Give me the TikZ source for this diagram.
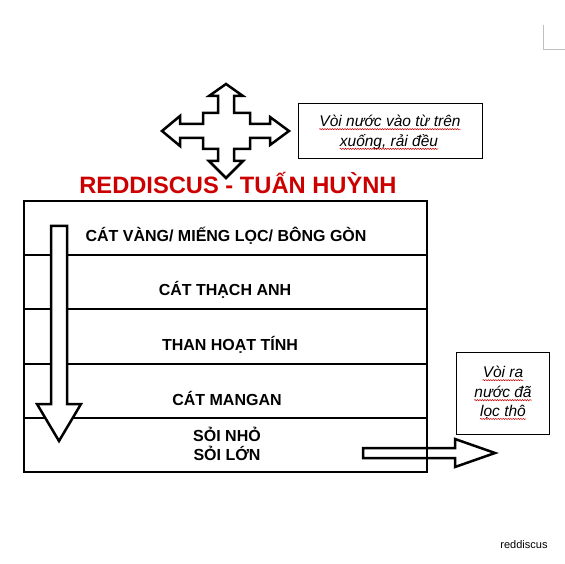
\documentclass[tikz,border=0pt]{standalone}
\usepackage{fontspec}
\setmainfont{Liberation Sans}
\usetikzlibrary{positioning,calc,decorations.pathmorphing}

\begin{document}
\begin{tikzpicture}[x=1pt,y=-1pt,
  box/.style={draw,line width=2pt},
  layertext/.style={inner sep=0pt,font=\fontsize{16}{19}\selectfont\bfseries,align=center},
  notebox/.style={draw,line width=1pt,minimum width=#1,inner sep=0pt},
  note/.style={inner sep=0pt,font=\fontsize{15.5}{19}\selectfont\itshape},
  blockarrow/.style={draw,line width=2.5pt,line join=miter},
  wavy/.style={red!80!black,line width=0.5pt,decorate,
    decoration={snake,amplitude=0.6pt,segment length=2.5pt}}]
  \useasboundingbox[fill=white] (0,0) rectangle (565,564);

  % page corner
  \draw[black!25,line width=0.8pt] (543,25) -- (543,49) -- (565,49);

  % title
  \node[inner sep=0pt,text=red!80!black,font=\fontsize{23.7}{27}\selectfont\bfseries]
    (title) at (238,183) {REDDISCUS - TUẤN HUỲNH};

  % four-way arrow
  \draw[blockarrow,fill=white]
    (226,84) -- (243,96) -- (234,96) -- (234,113) -- (250,113) -- (250,124)
    -- (270,124) -- (270,117) -- (289,131) -- (270,145) -- (270,138) -- (250,138)
    -- (250,149) -- (234,149) -- (234,161) -- (243,161) -- (226,178) -- (209,161)
    -- (218,161) -- (218,149) -- (203,149) -- (203,138) -- (180,138) -- (180,146)
    -- (162,131) -- (180,116) -- (180,124) -- (203,124) -- (203,113) -- (218,113)
    -- (218,96) -- (209,96) -- cycle;

  % top note
  \node[notebox=184,minimum height=55] (innote) at (390,131.5) {};
  \node[note] (in1) at (390,121) {Vòi nước vào từ trên};
  \node[note] (in2) at (389,142) {xuống, rải đều};

  % filter column
  \draw[box] (24,201) rectangle (427,472);
  \foreach \y in {255,309,364,418}
    \draw[box] (24,\y) -- (427,\y);

  \node[layertext] (l1) at (226,236) {CÁT VÀNG/ MIẾNG LỌC/ BÔNG GÒN};
  \node[layertext] (l2) at (225,290) {CÁT THẠCH ANH};
  \node[layertext] (l3) at (230,345) {THAN HOẠT TÍNH};
  \node[layertext] (l4) at (227,398) {CÁT MANGAN};
  \node[layertext] (l5) at (227,444) {SỎI NHỎ\\SỎI LỚN};

  % flow down
  \draw[blockarrow,fill=white] (51,226) -- (67,226) -- (67,404) -- (81,404)
    -- (59,441) -- (37,404) -- (51,404) -- cycle;

  % outlet
  \node[notebox=93,minimum height=82] (outnote) at (503,393) {};
  \node[note] (out1) at (503,372) {Vòi ra};
  \node[note] (out2) at (503,392) {nước đã};
  \node[note] (out3) at (503,412) {lọc thô};
  \draw[blockarrow] (363,448) -- (455,448) -- (455,439) -- (495,453)
    -- (455,467) -- (455,458) -- (363,458) -- cycle;

  % spell-check marks
  \foreach \n in {in1,in2,out1,out2,out3}
    \draw[wavy] ([yshift=-2.5pt]\n.base west) -- ([yshift=-2.5pt]\n.base east);

  \node[inner sep=0pt,font=\fontsize{11}{13}\selectfont] (sign) at (524,545) {reddiscus};
\end{tikzpicture}
\end{document}
